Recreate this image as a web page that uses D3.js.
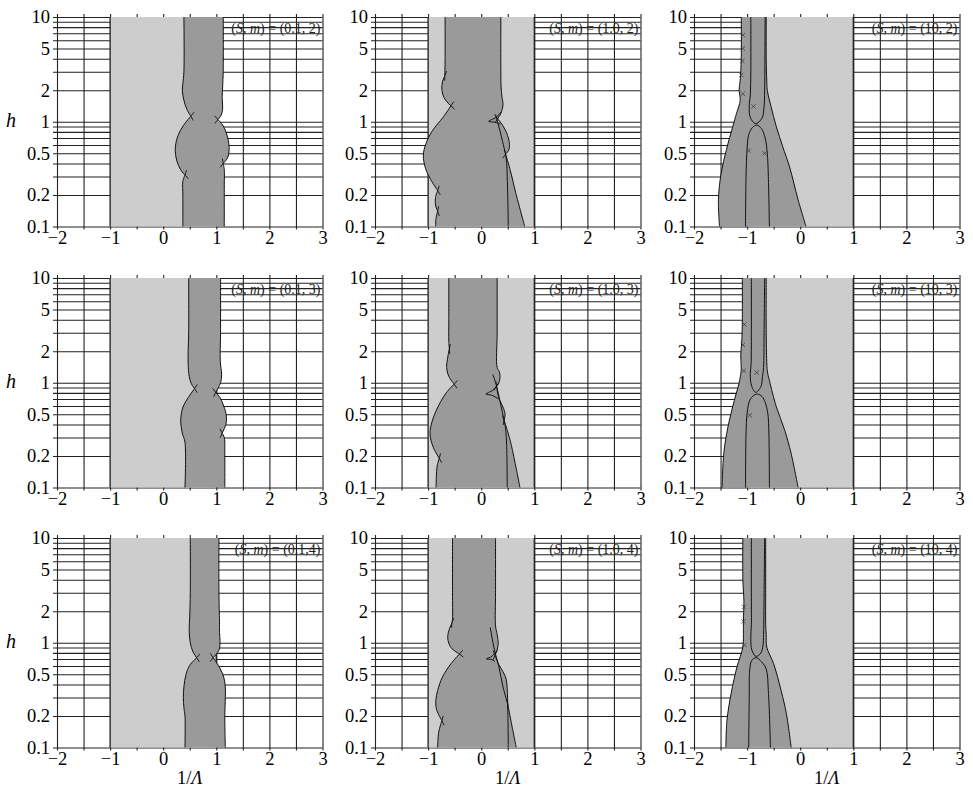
<!DOCTYPE html>
<html>
<head>
<meta charset="utf-8">
<script src="https://cdn.jsdelivr.net/npm/d3@7"></script>
<style>
  html, body { margin: 0; padding: 0; background: #fff; }
  svg, svg text { font-family: "Liberation Serif", "Times New Roman", serif; }
  svg { display: block; }
</style>
</head>
<body>
<svg id="chart" width="973" height="798"></svg>
<script>
// ---- axis values ----
const xTickValues = [-2, -1, 0, 1, 2, 3];
const xGridValues = [-2, -1.5, -1, -0.5, 0, 0.5, 1, 1.5, 2, 2.5, 3];
const yTickValues = [0.1, 0.2, 0.5, 1, 2, 5, 10];
const yGridValues = [0.1, 0.2, 0.3, 0.4, 0.5, 0.6, 0.7, 0.8, 0.9, 1, 2, 3, 4, 5, 6, 7, 8, 9, 10];
const sLabels = ["0.1", "1.0", "10"];
const mLabels = ["2", "3", "4"];
const panelTags = [
  ["0.1, 2", "1.0, 2", "10, 2"],
  ["0.1, 3", "1.0, 3", "10, 3"],
  ["0.1,4", "1.0, 4", "10, 4"]
];
const lightBand = [-1, 1];

// ---- unstable-region boundaries, points are [1/Lambda, h], listed top to bottom ----
// S = 0.1, m = 2
const s01m2Left = [
  [[0.39,10],[0.39,3],[0.37,2.3],[0.36,2.0],[0.39,1.6],[0.45,1.3],[0.52,1.13]],
  [[0.52,1.13],[0.38,0.92],[0.28,0.74],[0.23,0.58],[0.24,0.46],[0.29,0.38],[0.36,0.33],[0.41,0.31]],
  [[0.41,0.31],[0.37,0.27],[0.37,0.2],[0.37,0.1]]
];
const s01m2Right = [
  [[1.13,10],[1.13,3],[1.12,2.2],[1.11,1.7],[1.12,1.35],[1.09,1.15],[1.03,1.05]],
  [[1.03,1.05],[1.12,0.93],[1.19,0.78],[1.235,0.62],[1.24,0.52],[1.21,0.45],[1.13,0.4]],
  [[1.13,0.4],[1.15,0.35],[1.15,0.25],[1.15,0.1]]
];
// S = 0.1, m = 3
const s01m3Left = [
  [[0.48,10],[0.48,3],[0.47,2.0],[0.47,1.5],[0.49,1.15],[0.53,0.98],[0.59,0.88]],
  [[0.59,0.88],[0.47,0.72],[0.38,0.6],[0.34,0.5],[0.33,0.42],[0.36,0.33],[0.41,0.27],[0.41,0.1]]
];
const s01m3Right = [
  [[1.08,10],[1.08,3],[1.075,1.6],[1.1,1.2],[1.08,1.0],[0.99,0.81]],
  [[0.99,0.81],[1.07,0.72],[1.14,0.6],[1.19,0.48],[1.18,0.4],[1.11,0.33]],
  [[1.11,0.33],[1.15,0.3],[1.16,0.2],[1.16,0.1]]
];
// S = 0.1, m = 4
const s01m4Left = [
  [[0.51,10],[0.51,3],[0.50,1.8],[0.49,1.3],[0.51,1.0],[0.56,0.82],[0.63,0.72]],
  [[0.63,0.72],[0.50,0.61],[0.43,0.5],[0.39,0.38],[0.38,0.3],[0.39,0.24],[0.41,0.2],[0.41,0.1]]
];
const s01m4Right = [
  [[1.05,10],[1.05,3],[1.06,1.6],[1.06,1.25],[1.07,1.05],[1.05,0.85],[0.94,0.72]],
  [[0.94,0.72],[1.07,0.57],[1.14,0.47],[1.17,0.38],[1.17,0.3],[1.16,0.2],[1.17,0.1]]
];
// S = 1.0, m = 2
const s10m2Left = [
  [[-0.68,10],[-0.68,4],[-0.685,2.75]],
  [[-0.685,2.75],[-0.73,2.4],[-0.74,2.0],[-0.70,1.7],[-0.62,1.5],[-0.57,1.42]],
  [[-0.57,1.42],[-0.72,1.1],[-0.92,0.82],[-1.04,0.62],[-1.09,0.48],[-1.05,0.36],[-0.95,0.28],[-0.82,0.22]],
  [[-0.82,0.22],[-0.86,0.19],[-0.86,0.16],[-0.82,0.14]],
  [[-0.82,0.14],[-0.85,0.12],[-0.86,0.1]]
];
const s10m2Right = [
  [[0.37,10],[0.37,3],[0.375,2.1],[0.39,1.75],[0.41,1.45],[0.37,1.2],[0.31,1.07]],
  [[0.31,1.07],[0.40,0.93],[0.48,0.78],[0.53,0.63],[0.52,0.54],[0.46,0.49]],
  [[0.46,0.49],[0.55,0.34],[0.65,0.21],[0.82,0.1]]
];
const s10m2Inner = [
  [[0.27,1.17],[0.32,0.95],[0.38,0.72],[0.46,0.49]],
  [[0.38,1.25],[0.28,1.1],[0.14,1.01],[0.26,0.99],[0.36,0.95]],
  [[0.46,0.49],[0.48,0.4],[0.49,0.3],[0.50,0.2],[0.51,0.1]]
];
// S = 1.0, m = 3
const s10m3Left = [
  [[-0.61,10],[-0.61,4],[-0.61,2.5],[-0.60,2.1]],
  [[-0.60,2.1],[-0.63,1.75],[-0.65,1.4],[-0.61,1.15],[-0.51,0.97]],
  [[-0.51,0.97],[-0.66,0.8],[-0.85,0.54],[-0.95,0.38],[-0.96,0.31],[-0.90,0.24],[-0.79,0.19]],
  [[-0.79,0.19],[-0.83,0.16],[-0.85,0.1]]
];
const s10m3Right = [
  [[0.30,10],[0.30,3],[0.30,1.4],[0.34,1.28],[0.355,1.12],[0.33,1.0],[0.29,0.93]],
  [[0.29,0.93],[0.31,0.8],[0.35,0.68],[0.42,0.57],[0.45,0.5],[0.43,0.44]],
  [[0.43,0.44],[0.50,0.34],[0.57,0.25],[0.73,0.1]]
];
const s10m3Inner = [
  [[0.22,1.2],[0.29,0.93],[0.35,0.68],[0.43,0.44]],
  [[0.34,1.0],[0.22,0.85],[0.09,0.78],[0.2,0.76],[0.33,0.7]],
  [[0.43,0.44],[0.46,0.36],[0.48,0.25],[0.49,0.1]]
];
// S = 1.0, m = 4
const s10m4Left = [
  [[-0.54,10],[-0.54,3],[-0.54,1.7],[-0.55,1.55]],
  [[-0.55,1.55],[-0.61,1.3],[-0.63,1.1],[-0.57,0.9],[-0.41,0.78]],
  [[-0.41,0.78],[-0.57,0.63],[-0.73,0.47],[-0.82,0.35],[-0.855,0.28],[-0.84,0.23],[-0.74,0.18]],
  [[-0.74,0.18],[-0.8,0.14],[-0.82,0.1]]
];
const s10m4Right = [
  [[0.27,10],[0.27,3],[0.27,1.45],[0.30,1.2],[0.32,1.0],[0.30,0.85],[0.26,0.76]],
  [[0.26,0.76],[0.33,0.62],[0.41,0.53],[0.47,0.45],[0.49,0.36],[0.50,0.26]],
  [[0.50,0.26],[0.56,0.18],[0.66,0.1]]
];
const s10m4Inner = [
  [[0.17,1.4],[0.25,0.85],[0.33,0.6],[0.41,0.38],[0.50,0.26]],
  [[0.30,0.85],[0.2,0.74],[0.10,0.70],[0.2,0.69],[0.26,0.66]],
  [[0.50,0.26],[0.505,0.18],[0.51,0.1]]
];
// S = 10, m = 2
const s100m2Left = [
  [[-1.11,10],[-1.11,4],[-1.13,2.5],[-1.15,2.0],[-1.13,1.6],[-1.2,1.2],[-1.27,0.9],[-1.39,0.54],[-1.49,0.32],[-1.54,0.18],[-1.52,0.1]]
];
const s100m2Right = [
  [[-0.64,10],[-0.64,4],[-0.63,2.5],[-0.62,2.0],[-0.55,1.4],[-0.45,0.9],[-0.33,0.58],[-0.2,0.37],[-0.04,0.18],[0.11,0.1]]
];
const s100m2Inner = [
  [[-0.93,10],[-0.93,3],[-0.94,1.8],[-0.96,1.4],[-0.94,1.1],[-0.84,0.96],[-0.72,1.08],[-0.68,1.4],[-0.67,2],[-0.66,10]],
  [[-1.03,0.1],[-1.02,0.3],[-1.0,0.55],[-0.97,0.75],[-0.9,0.88],[-0.82,0.93],[-0.73,0.86],[-0.66,0.7],[-0.62,0.5],[-0.6,0.3],[-0.58,0.1]]
];
const s100m2Marks = [[-1.08,6.7],[-1.08,5.0],[-1.09,3.8],[-1.11,2.8],[-1.08,1.85],[-0.88,1.4],[-0.97,0.53],[-0.67,0.5]];
// S = 10, m = 3
const s100m3Left = [
  [[-1.09,10],[-1.09,4],[-1.10,2.5],[-1.12,1.8],[-1.11,1.35],[-1.14,1.05],[-1.24,0.68],[-1.36,0.38],[-1.44,0.21],[-1.47,0.1]]
];
const s100m3Right = [
  [[-0.64,10],[-0.64,3],[-0.63,1.6],[-0.62,1.3],[-0.58,1.05],[-0.45,0.59],[-0.29,0.35],[-0.17,0.21],[-0.04,0.1]]
];
const s100m3Inner = [
  [[-0.92,10],[-0.92,3],[-0.925,1.5],[-0.94,1.2],[-0.92,0.95],[-0.84,0.81],[-0.74,0.92],[-0.71,1.15],[-0.69,1.4],[-0.68,3],[-0.67,10]],
  [[-1.03,0.1],[-1.02,0.33],[-1.0,0.51],[-0.95,0.68],[-0.87,0.76],[-0.80,0.78],[-0.72,0.74],[-0.66,0.65],[-0.61,0.51],[-0.59,0.33],[-0.58,0.1]]
];
const s100m3Marks = [[-1.05,3.6],[-1.08,2.3],[-1.06,1.3],[-0.95,0.49],[-0.82,1.25]];
// S = 10, m = 4
const s100m4Left = [
  [[-1.08,10],[-1.08,4],[-1.06,2.5],[-1.07,1.6],[-1.07,1.3],[-1.08,0.91],[-1.19,0.59],[-1.30,0.33],[-1.38,0.18],[-1.40,0.1]]
];
const s100m4Right = [
  [[-0.65,10],[-0.65,3],[-0.65,1.5],[-0.64,1.2],[-0.63,0.91],[-0.5,0.63],[-0.36,0.35],[-0.26,0.21],[-0.17,0.1]]
];
const s100m4Inner = [
  [[-0.92,10],[-0.92,3],[-0.92,1.5],[-0.93,1.1],[-0.91,0.85],[-0.83,0.74],[-0.74,0.8],[-0.70,0.95],[-0.69,1.2],[-0.68,3],[-0.67,10]],
  [[-0.97,0.1],[-0.96,0.3],[-0.95,0.55],[-0.91,0.68],[-0.83,0.72],[-0.73,0.66],[-0.64,0.56],[-0.6,0.35],[-0.56,0.1]]
];
const s100m4Marks = [[-1.06,2.2],[-1.07,1.6],[-1.05,0.95]];

// panel table: row = m, column = S
const panels = [
  { row: 0, col: 0, left: s01m2Left,  right: s01m2Right,  inner: [], marks: [] },
  { row: 0, col: 1, left: s10m2Left,  right: s10m2Right,  inner: s10m2Inner, marks: [] },
  { row: 0, col: 2, left: s100m2Left, right: s100m2Right, inner: s100m2Inner, marks: s100m2Marks },
  { row: 1, col: 0, left: s01m3Left,  right: s01m3Right,  inner: [], marks: [] },
  { row: 1, col: 1, left: s10m3Left,  right: s10m3Right,  inner: s10m3Inner, marks: [] },
  { row: 1, col: 2, left: s100m3Left, right: s100m3Right, inner: s100m3Inner, marks: s100m3Marks },
  { row: 2, col: 0, left: s01m4Left,  right: s01m4Right,  inner: [], marks: [] },
  { row: 2, col: 1, left: s10m4Left,  right: s10m4Right,  inner: s10m4Inner, marks: [] },
  { row: 2, col: 2, left: s100m4Left, right: s100m4Right, inner: s100m4Inner, marks: s100m4Marks }
];

// ---- layout ----
const colX = [57, 375, 694];
const rowY = [17, 278, 538];
const PW = 265.5, PH = 209.5;
const LIGHT = "#cdcdcd", DARK = "#9a9a9a", INK = "#111", GRID = "#222";
const FONT = "Liberation Serif, Times New Roman, serif";

const svg = d3.select("#chart");

const fmtX = v => xTickValues.includes(v) ? (v < 0 ? "\u2212" + Math.abs(v) : String(v)) : "";
const fmtY = v => yTickValues.includes(v) ? String(v) : "";

panels.forEach(p => {
  const L = colX[p.col], T = rowY[p.row];
  const x = d3.scaleLinear().domain([-2, 3]).range([L, L + PW]);
  const y = d3.scaleLog().domain([0.1, 10]).range([T + PH, T]);
  const g = svg.append("g");

  // grid + tick labels via axes
  const xa = g.append("g")
    .attr("transform", `translate(0,${T + PH + 3})`)
    .call(d3.axisBottom(x).tickValues(xGridValues).tickSizeInner(-(PH + 6)).tickSizeOuter(0).tickPadding(1).tickFormat(fmtX));
  const ya = g.append("g")
    .attr("transform", `translate(${L - 4},0)`)
    .call(d3.axisLeft(y).tickValues(yGridValues).tickSizeInner(-(PW + 4)).tickSizeOuter(0).tickPadding(3).tickFormat(fmtY));
  [xa, ya].forEach(a => {
    a.select(".domain").remove();
    a.attr("font-family", FONT).attr("font-size", 18.5).attr("color", GRID);
    a.selectAll("line").attr("stroke-width", 1.1);
    a.selectAll("text").attr("fill", "#000");
  });

  // light band
  g.append("rect")
    .attr("x", x(lightBand[0])).attr("y", y(10))
    .attr("width", x(lightBand[1]) - x(lightBand[0])).attr("height", y(0.1) - y(10))
    .attr("fill", LIGHT);
  lightBand.forEach(v => g.append("line")
    .attr("x1", x(v)).attr("x2", x(v)).attr("y1", y(10)).attr("y2", y(0.1))
    .attr("stroke", GRID).attr("stroke-width", 1.3));

  const line = d3.line().x(d => x(d[0])).y(d => y(d[1])).curve(d3.curveCatmullRom.alpha(0.5));

  // dark region fill: left edge down, right edge back up
  const ring = [...p.left, ...p.right.map(s => s.slice().reverse()).reverse()];
  let d = "";
  ring.forEach((s, i) => { const part = line(s); d += i === 0 ? part : "L" + part.slice(1); });
  g.append("path").attr("d", d + "Z").attr("fill", DARK).attr("stroke", "none");

  // boundary strokes
  const strokeSegs = segs => segs.forEach(s => g.append("path")
    .attr("d", line(s)).attr("fill", "none").attr("stroke", INK).attr("stroke-width", 1));
  strokeSegs(p.left);
  strokeSegs(p.right);
  strokeSegs(p.inner);

  // crossing stubs where neighbouring boundary curves meet
  const ext = 5;
  const stub = (from, at) => {
    const fx = x(from[0]), fy = y(from[1]), ax = x(at[0]), ay = y(at[1]);
    const len = Math.hypot(ax - fx, ay - fy) || 1;
    g.append("line")
      .attr("x1", ax).attr("y1", ay)
      .attr("x2", ax + (ax - fx) / len * ext).attr("y2", ay + (ay - fy) / len * ext)
      .attr("stroke", INK).attr("stroke-width", 0.9);
  };
  [p.left, p.right].forEach(segs => {
    for (let i = 0; i < segs.length - 1; i++) {
      const a = segs[i], b = segs[i + 1];
      const at = a[a.length - 1];
      stub(a[a.length - 2], at);
      stub(b[1], at);
    }
  });

  // small crossing marks
  p.marks.forEach(m => {
    const cx = x(m[0]), cy = y(m[1]), r = 2.2;
    g.append("path")
      .attr("d", `M${cx - r},${cy - r}L${cx + r},${cy + r}M${cx - r},${cy + r}L${cx + r},${cy - r}`)
      .attr("stroke", "#333").attr("stroke-width", 0.7).attr("fill", "none");
  });

  // panel tag
  const tag = g.append("text")
    .attr("x", L + PW - 2).attr("y", T + 16)
    .attr("text-anchor", "end").attr("font-family", FONT).attr("font-size", 14).attr("fill", "#222");
  tag.append("tspan").text("(");
  tag.append("tspan").attr("font-style", "italic").text("S");
  tag.append("tspan").text(", ");
  tag.append("tspan").attr("font-style", "italic").text("m");
  tag.append("tspan").text(") = (" + panelTags[p.row][p.col] + ")");
});

// axis titles
rowY.forEach(T => {
  svg.append("text")
    .attr("x", 11).attr("y", T + PH / 2 + 5)
    .attr("text-anchor", "middle").attr("font-family", FONT).attr("font-size", 20)
    .attr("font-style", "italic").attr("fill", "#000").text("h");
});
colX.forEach(L => {
  const t = svg.append("text")
    .attr("x", L + PW / 2).attr("y", 784)
    .attr("text-anchor", "middle").attr("font-family", FONT).attr("font-size", 18.5).attr("fill", "#000");
  t.append("tspan").text("1/");
  t.append("tspan").attr("font-style", "italic").text("\u039B");
});
</script>
</body>
</html>
